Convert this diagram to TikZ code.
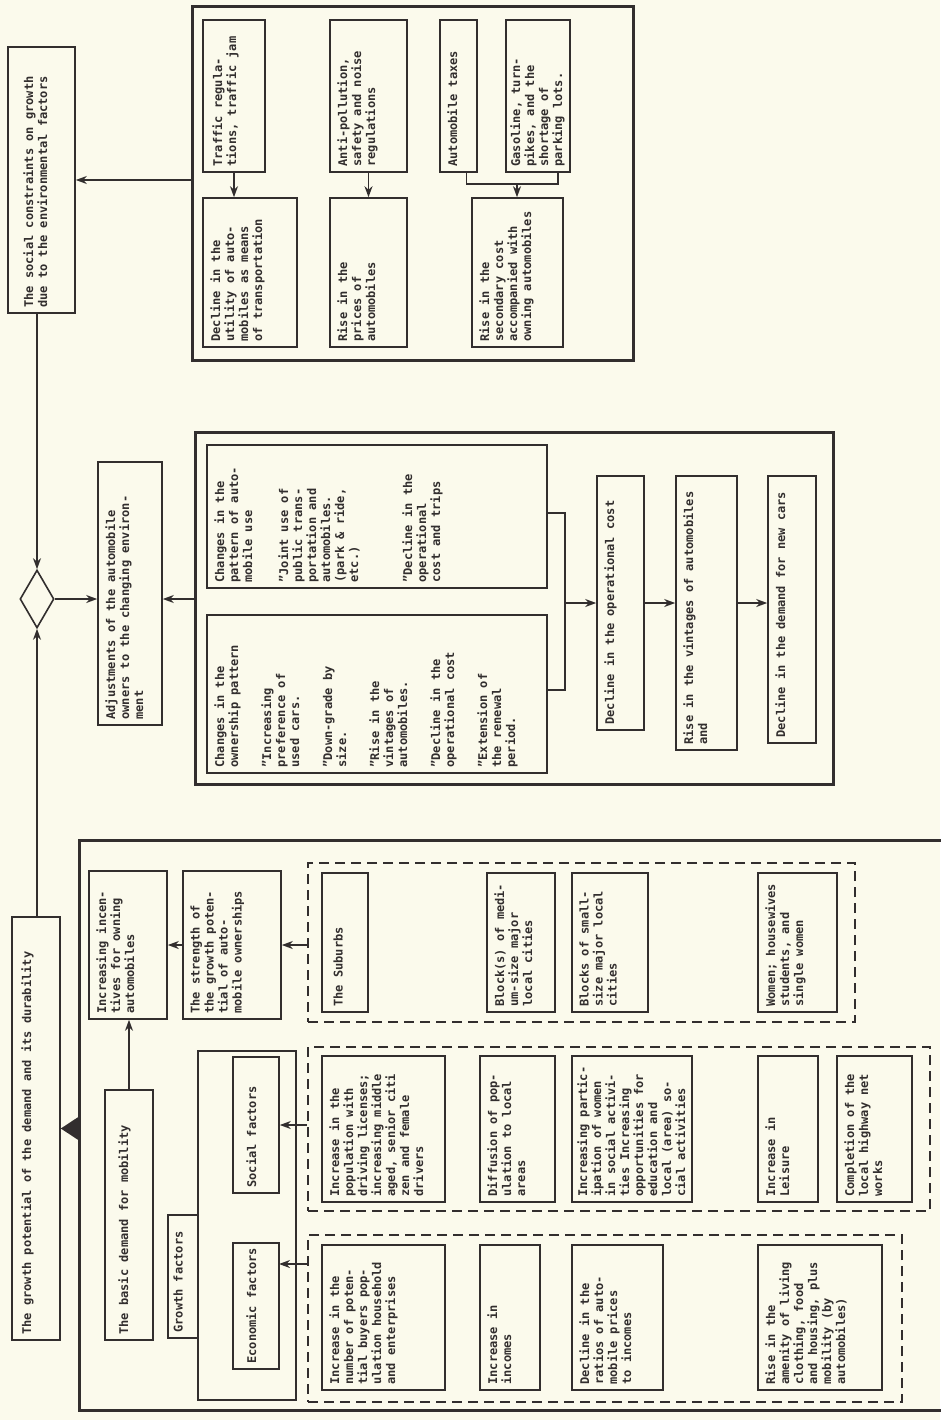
\documentclass[tikz,border=0pt]{standalone}
\usepackage{fontspec}
\setmainfont{DejaVu Sans Mono}
\usetikzlibrary{arrows.meta}
\usetikzlibrary{shapes.geometric}
\definecolor{paper}{RGB}{251, 250, 236}
\definecolor{ink}{RGB}{50, 46, 46}
\tikzset{box/.style = {draw=ink, line width=1.6pt, inner sep=0pt}}
\tikzset{frame/.style = {draw=ink, line width=3pt, inner sep=0pt}}
\tikzset{group/.style = {draw=ink, line width=1.8pt, inner sep=0pt, dash pattern=on 10pt off 6pt}}
\tikzset{txt/.style = {rotate=90, anchor=north west, align=left, inner sep=0pt, text=ink,
                       font=\fontsize{12}{14}\selectfont\bfseries}}
\tikzset{plain/.style = {draw=ink, line width=1.6pt}}
\tikzset{link/.style = {plain, -{Stealth[length=11pt, width=8pt, inset=3.5pt]}}}
\tikzset{fat/.style = {plain, -{Triangle[length=17pt, width=22pt]}}}
% box given by its corners, text set in from the lower left corner
\newcommand{\flowbox}[7][8]{%
  \node [box, minimum width={#5-#3}, minimum height={#6-#4}] (#2) at ({(#3+#5)/2}, {(#4+#6)/2}) {};
  \node [txt] (#2-t) at ([shift={(#1,-6)}]#2.south west) {#7};}
\newcommand{\areabox}[6]{%
  \node [#6, minimum width={#4-#2}, minimum height={#5-#3}] (#1) at ({(#2+#4)/2}, {(#3+#5)/2}) {};}

\begin{document}
\begin{tikzpicture}[x=1pt, y=-1pt]
  \fill [paper] (0, 0) rectangle (940, 1420);
  \useasboundingbox (0, 0) rectangle (940, 1420);

  % outer frames and dashed groups
  \areabox{A}{192}{7}{633}{360}{frame}
  \areabox{B}{195}{432}{833}{784}{frame}
  \areabox{G}{79}{840}{960}{1410}{frame}
  \areabox{DG1}{308}{863}{855}{1022}{group}
  \areabox{DG2}{308}{1047}{930}{1211}{group}
  \areabox{DG3}{308}{1235}{902}{1402}{group}
  \areabox{FR}{198}{1051}{296}{1400}{box}

  % summary column
  \flowbox[16]{S}{8}{47}{75}{313}{The social constraints on growth\\due to the environmental factors}
  \node [diamond, draw=ink, line width=1.6pt, inner sep=0pt, minimum width=34pt, minimum height=58pt] (dia) at (37, 599) {};
  \flowbox{ADJ}{98}{462}{162}{725}{Adjustments of the automobile\\owners to the changing environ-\\ment}
  \flowbox[10]{GP}{12}{917}{60}{1340}{The growth potential of the demand and its durability}

  % social constraints
  \flowbox[10]{T1}{203}{20}{265}{172}{Traffic regula-\\tions, traffic jam}
  \flowbox{U1}{203}{198}{297}{347}{Decline in the\\utility of auto-\\mobiles as means\\of transportation}
  \flowbox{T2}{330}{20}{407}{172}{Anti-pollution,\\safety and noise\\regulations}
  \flowbox{U2}{330}{198}{407}{347}{Rise in the\\prices of\\automobiles}
  \flowbox{T3}{440}{20}{477}{172}{Automobile taxes}
  \flowbox[5]{T4}{506}{20}{570}{172}{Gasoline, turn-\\pikes, and the\\shortage of\\parking lots.}
  \flowbox{U3}{472}{198}{563}{347}{Rise in the\\secondary cost\\accompanied with\\owning automobiles}

  % adjustments
  \flowbox{PB}{207}{445}{547}{588}{Changes in the\\pattern of auto-\\mobile use\\[22pt]"Joint use of\\public trans-\\portation and\\automobiles.\\(park \& ride,\\etc.)\\[40pt]"Decline in the\\operational\\cost and trips}
  \flowbox{OB}{207}{615}{547}{773}{Changes in the\\ownership pattern\\[19pt]"Increasing\\preference of\\used cars.\\[19pt]"Down-grade by\\size.\\[19pt]"Rise in the\\vintages of\\automobiles.\\[19pt]"Decline in the\\operational cost\\[19pt]"Extension of\\the renewal\\period.}
  \flowbox{OC}{597}{476}{644}{730}{Decline in the operational cost}
  \flowbox{VB}{676}{476}{737}{750}{Rise in the vintages of automobiles\\and}
  \flowbox{DB}{768}{476}{816}{743}{Decline in the demand for new cars}

  % growth
  \flowbox{INC}{89}{871}{167}{1019}{Increasing incen-\\tives for owning\\automobiles}
  \flowbox{STR}{183}{871}{281}{1019}{The strength of\\the growth poten-\\tial of auto-\\mobile ownerships}
  \flowbox[14]{BD}{105}{1090}{153}{1340}{The basic demand for mobility}
  \flowbox[6]{GF}{168}{1215}{198}{1338}{Growth factors}
  \flowbox[14]{SF}{233}{1057}{279}{1193}{Social factors}
  \flowbox[14]{EF}{233}{1243}{279}{1369}{Economic factors}

  \flowbox[12]{SUB}{322}{873}{368}{1012}{The Suburbs}
  \flowbox{MED}{487}{873}{555}{1012}{Block(s) of medi-\\um-size major\\local cities}
  \flowbox{SMA}{572}{873}{648}{1012}{Blocks of small-\\size major local\\cities}
  \flowbox{WOM}{758}{873}{837}{1012}{Women; housewives\\students, and\\single women}

  \flowbox{POP}{322}{1056}{445}{1202}{Increase in the\\population with\\driving licenses;\\increasing middle\\aged, senior citi\\zen and female\\drivers}
  \flowbox{DIF}{480}{1056}{555}{1202}{Diffusion of pop-\\ulation to local\\areas}
  \flowbox[6]{PAR}{572}{1056}{692}{1202}{Increasing partic-\\ipation of women\\in social activi-\\ties Increasing\\opportunities for\\education and\\local (area) so-\\cial activities}
  \flowbox{LEI}{758}{1056}{818}{1202}{Increase in\\Leisure}
  \flowbox{HWY}{837}{1056}{912}{1202}{Completion of the\\local highway net\\works}

  \flowbox{BUY}{322}{1245}{445}{1390}{Increase in the\\number of poten-\\tial buyers pop-\\ulation household\\and enterprises}
  \flowbox{INM}{480}{1245}{540}{1390}{Increase in\\incomes}
  \flowbox{RAT}{572}{1245}{663}{1390}{Decline in the\\ratios of auto-\\mobile prices\\to incomes}
  \flowbox{AME}{758}{1245}{882}{1390}{Rise in the\\amenity of living\\clothing, food\\and housing, plus\\mobility (by\\automobiles)}

  % connectors
  \draw [link] (A.west |- S.east) -- (S.east);
  \draw [link] (dia.north |- S.south) -- (dia.north);
  \draw [link] (dia.south |- GP.north) -- (dia.south);
  \draw [link] (dia.east) -- (ADJ.west |- dia.east);
  \draw [link] (B.west |- dia.east) -- (ADJ.east |- dia.east);

  \draw [link] (T1.south) -- (T1.south |- U1.north);
  \draw [link] (T2.south) -- (T2.south |- U2.north);
  \coordinate (fork) at (517, 184);
  \draw [plain] ([xshift=8]T3.south) |- (fork) -| ([xshift=20]T4.south);
  \draw [link] (fork) -- (fork |- U3.north);

  \coordinate (brtop) at (565, 513);
  \coordinate (brbot) at (565, 690);
  \draw [plain] (PB.east |- brtop) -- (brtop) -- (brbot) -- (OB.east |- brbot);
  \draw [link] (brtop |- OC.west) -- (OC.west);
  \draw [link] (OC.east) -- (VB.west |- OC.east);
  \draw [link] (VB.east |- OC.east) -- (DB.west |- OC.east);

  \draw [fat] (G.west |- GP.east) -- (GP.east);
  \draw [link] (BD.north) -- (BD.north |- INC.south);
  \draw [link] (STR.west) -- (INC.east);
  \draw [link] (DG1.west |- STR.east) -- (STR.east);
  \draw [link] (DG2.west |- SF.east) -- (SF.east);
  \coordinate (efin) at (279, 1264);
  \draw [link] (DG3.west |- efin) -- (efin);
\end{tikzpicture}
\end{document}
